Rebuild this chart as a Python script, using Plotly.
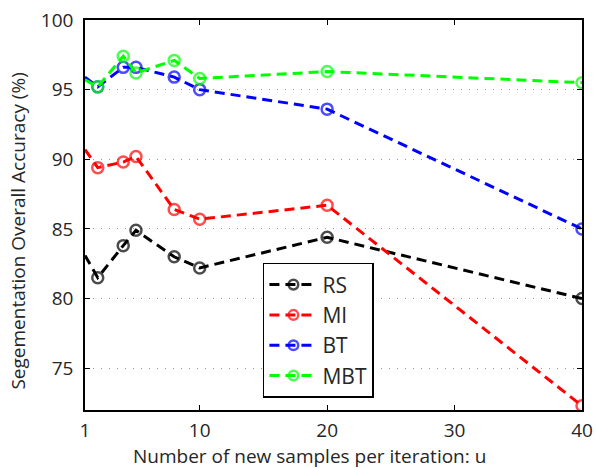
import plotly.graph_objects as go

# ---- data ----
u_values = [1, 2, 4, 5, 8, 10, 20, 40]
rs_acc  = [83.1, 81.5, 83.8, 84.9, 83.0, 82.2, 84.4, 80.0]
mi_acc  = [90.7, 89.4, 89.8, 90.2, 86.4, 85.7, 86.7, 72.3]
bt_acc  = [95.9, 95.2, 96.6, 96.6, 95.9, 95.0, 93.6, 85.0]
mbt_acc = [95.7, 95.2, 97.4, 96.2, 97.1, 95.8, 96.3, 95.5]
series_names = ["RS", "MI", "BT", "MBT"]
series_colors = ["#000000", "#ff0000", "#0000ff", "#00ff00"]
x_tick_vals = [1, 10, 20, 30, 40]
y_tick_vals = [75, 80, 85, 90, 95, 100]

FONT = "Open Sans"
TXT = "#262626"

fig = go.Figure()
marker_sizes = [0] + [11] * (len(u_values) - 1)
for name, ys, col in zip(series_names, [rs_acc, mi_acc, bt_acc, mbt_acc], series_colors):
    fig.add_trace(go.Scatter(
        x=u_values, y=ys, name=name, mode="lines+markers",
        line=dict(color=col, width=3, dash="10px,6px"),
        marker=dict(symbol="circle-open", size=marker_sizes, color=col,
                    line=dict(width=2.5, color=col)),
    ))

axis_common = dict(
    showline=True, linecolor="#000000", linewidth=1.5, mirror="ticks",
    ticks="inside", ticklen=5, tickwidth=1, tickcolor="#000000",
    tickfont=dict(family=FONT, size=19, color=TXT),
    zeroline=False, automargin=False,
)
fig.update_xaxes(range=[1, 40], tickvals=x_tick_vals, showgrid=False,
                 ticklabelstandoff=2, **axis_common)
fig.update_yaxes(range=[72, 100], tickvals=y_tick_vals, showgrid=True,
                 gridcolor="#999999", gridwidth=1, griddash="1px,7px",
                 ticklabelstandoff=6, **axis_common)

fig.add_annotation(text="Number of new samples per iteration: u", xref="paper", yref="paper",
                   x=0.452, y=-0.08, xanchor="center", yanchor="top", showarrow=False,
                   font=dict(family=FONT, size=19, color=TXT))
fig.add_annotation(text="Segementation Overall Accuracy (%)", xref="paper", yref="paper",
                   x=-0.165, y=0.46, xanchor="left", yanchor="middle", showarrow=False,
                   textangle=-90, font=dict(family=FONT, size=19, color=TXT))

fig.update_layout(
    template="none",
    width=596, height=468,
    margin=dict(l=85, r=14, t=20, b=58),
    plot_bgcolor="white", paper_bgcolor="white",
    legend=dict(x=0.358, y=0.377, xanchor="left", yanchor="top",
                bgcolor="white", bordercolor="#000000", borderwidth=1.5,
                font=dict(family=FONT, size=21, color=TXT),
                itemwidth=48, entrywidth=118, entrywidthmode="pixels"),
    showlegend=True,
)

fig.write_html("out.html")
